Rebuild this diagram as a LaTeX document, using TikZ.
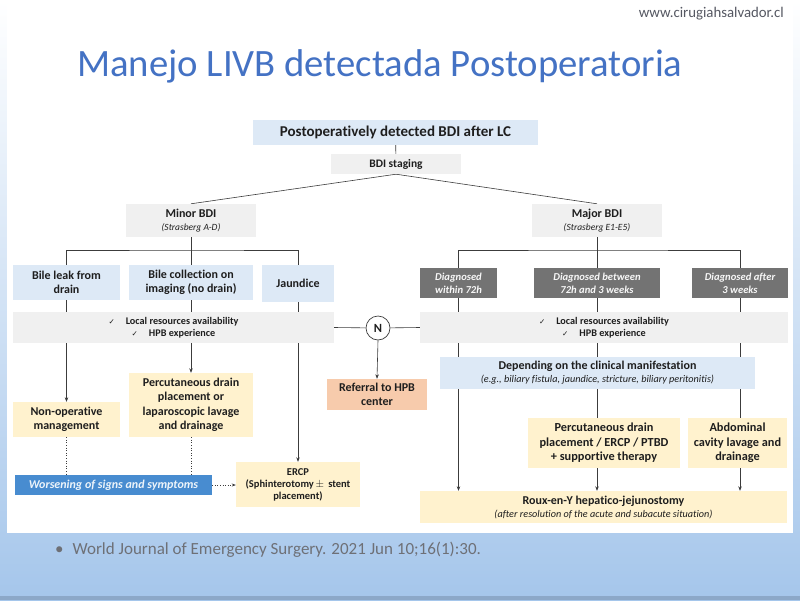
\documentclass[tikz,border=0pt]{standalone}
\usepackage{fontspec}
\setmainfont{Carlito}[Ligatures=NoCommon]
\newfontfamily\djv{DejaVu Sans}
\usetikzlibrary{arrows.meta,calc}
\pgfdeclarelayer{bg}
\pgfsetlayers{bg,main}
\newcommand\myfs[2]{\fontsize{#1}{#2}\selectfont}
\newcommand\chk{{\djv\mdseries\myfs{7.5}{8}\char"2713}}
\definecolor{ttl}{RGB}{68,114,196}
\definecolor{bxblue}{RGB}{221,233,246}
\definecolor{bxgray}{RGB}{240,240,240}
\definecolor{bxdark}{RGB}{115,115,115}
\definecolor{bxyel}{RGB}{255,242,206}
\definecolor{bxsal}{RGB}{247,203,172}
\definecolor{bxwors}{RGB}{72,140,208}
\definecolor{txt}{RGB}{30,30,30}
\definecolor{ln}{RGB}{60,60,60}
\definecolor{bgblue}{RGB}{165,198,235}
\definecolor{bgmid}{RGB}{236,243,251}
\definecolor{urlc}{RGB}{85,88,98}
\definecolor{citec}{RGB}{110,112,118}
\begin{document}
\begin{tikzpicture}[x=1pt,y=-1pt,
  bb/.style={align=center, inner sep=1pt, text=txt, font=\bfseries\myfs{12}{14}},
  wh/.style 2 args={minimum width=#1pt, minimum height=#2pt},
  blu/.style={bb, fill=bxblue},
  gry/.style={bb, fill=bxgray},
  drk/.style={bb, fill=bxdark, text=white!94!bxdark, font=\bfseries\itshape\myfs{10.6}{13}},
  yel/.style={bb, fill=bxyel},
  sal/.style={bb, fill=bxsal},
  conn/.style={draw=ln, line width=0.6pt},
  arr/.style={conn, -{Stealth[length=4.5pt,width=3.5pt]}},
  dot/.style={conn, dotted, line width=0.7pt}
]
\useasboundingbox (0,0) rectangle (800,600);

% texts of the slide
\node[anchor=west, text=ttl, font=\myfs{38.7}{40}, inner sep=0pt] (title) at (77,66) {Manejo LIVB detectada Postoperatoria};
\node[anchor=east, text=urlc, font=\myfs{14.8}{16}, inner sep=0pt] (url) at (784,14) {www.cirugiahsalvador.cl};
\node[anchor=west, text=citec, font=\myfs{17}{19}, inner sep=0pt] (cite) at (55,550) {\textbullet\hspace{9pt}World Journal of Emergency Surgery. 2021 Jun 10;16(1):30.};

% boxes
\node[blu, wh={285}{25}, font=\bfseries\myfs{15}{16}] (top) at (395.5,132.5) {Postoperatively detected BDI after LC};
\node[gry, wh={130}{20}, font=\bfseries\myfs{11.5}{12}] (stag) at (396,164) {BDI staging};
\node[gry, wh={130}{33}] (minor) at (191,220.5) {{\bfseries\myfs{12}{13}Minor BDI}\\[-1pt]{\mdseries\itshape\myfs{9.5}{11}(Strasberg A-D)}};
\node[gry, wh={130}{33}] (major) at (597,220.5) {{\bfseries\myfs{12}{13}Major BDI}\\[-1pt]{\mdseries\itshape\myfs{9.5}{11}(Strasberg E1-E5)}};

\node[blu, wh={107}{35}] (leak) at (66.5,282.5) {Bile leak from\\drain};
\node[blu, wh={124}{35}] (coll) at (191,282.5) {Bile collection on\\imaging (no drain)};
\node[blu, wh={72}{37}] (jaun) at (298,283.5) {Jaundice};

\node[drk, wh={77}{30}] (d72) at (458.5,283) {Diagnosed\\within 72h};
\node[drk, wh={126}{30}] (dbt) at (597,283) {Diagnosed between\\72h and 3 weeks};
\node[drk, wh={96}{30}] (d3w) at (740,283) {Diagnosed after\\3 weeks};

\node[gry, wh={321}{31}, font=\bfseries\myfs{10.2}{12.5}] (critL) at (173.5,327.5) {\chk\hspace{11pt}Local resources availability\\\chk\hspace{11pt}HPB experience};
\node[gry, wh={368}{31}, font=\bfseries\myfs{10.2}{12.5}] (critR) at (604,327.5) {\chk\hspace{11pt}Local resources availability\\\chk\hspace{11pt}HPB experience};
\node[circle, draw=ln, line width=0.7pt, fill=white, minimum size=24pt, inner sep=0pt, text=txt, font=\bfseries\myfs{12.5}{13}] (N) at (378,328) {N};

\node[sal, wh={100}{31}] (ref) at (377,394.5) {Referral to HPB\\center};
\node[yel, wh={107}{35}] (nonop) at (66.5,419.5) {Non-operative\\management};
\node[yel, wh={124}{64}, font=\bfseries\myfs{12}{14.5}] (perc) at (191,405) {Percutaneous drain\\placement or\\laparoscopic lavage\\and drainage};
\node[yel, wh={124}{45}, font=\bfseries\myfs{10.5}{12}] (ercp) at (298,484.5) {ERCP\\(Sphinterotomy\,$\pm$\, stent\\placement)};
\node[bb, fill=bxwors, wh={197}{20}, text=white!90!bxwors, font=\bfseries\itshape\myfs{12}{13}] (wors) at (113.5,485) {Worsening of signs and symptoms};

\node[blu, wh={315}{32}] (dep) at (597.5,373) {{\bfseries\myfs{12}{13}Depending on the clinical manifestation}\\[-1pt]{\mdseries\itshape\myfs{10.2}{11}(e.g., biliary fistula, jaundice, stricture, biliary peritonitis)}};
\node[yel, wh={152}{50}, font=\bfseries\myfs{12.3}{14.5}] (perc2) at (604,443) {Percutaneous drain\\placement / ERCP / PTBD\\+ supportive therapy};
\node[yel, wh={99}{50}, font=\bfseries\myfs{12.3}{14.5}] (abd) at (737.5,443) {Abdominal\\cavity lavage and\\drainage};
\node[yel, wh={367}{32}] (roux) at (603.5,507) {{\bfseries\myfs{12}{13}Roux-en-Y hepatico-jejunostomy}\\[-1pt]{\mdseries\itshape\myfs{10.2}{11}(after resolution of the acute and subacute situation)}};

\begin{pgfonlayer}{bg}
  % slide background
  \shade[top color=white, middle color=bgmid, bottom color=bgblue] (0,0) rectangle (800,600);
  \fill[bgblue!70!black!50!bgblue] (0,596) rectangle (800,600);
  \fill[white] (7,0) rectangle (793,533);
  % connectors
  \draw[conn] (top) -- (stag);
  \draw[conn] (stag.south) -- (minor.north);
  \draw[conn] (stag.south) -- (major.north);
  \coordinate (mbar) at (191,250);
  \coordinate (jbar) at (597,250);
  \draw[conn] (minor) -- (mbar);
  \draw[conn] (leak.north) |- (mbar) -| (jaun.north);
  \draw[conn] (mbar) -- (coll.north);
  \draw[conn] (major) -- (jbar);
  \draw[conn] (d72.north) |- (jbar) -| (d3w.north);
  \draw[conn] (jbar) -- (dbt.north);
  \draw[arr] (leak.south) -- (nonop.north);
  \draw[arr] (coll.south) -- (perc.north);
  \draw[arr] (jaun.south) -- (ercp.north);
  \draw[conn] (critL.east) -- (N) -- (critR.west);
  \draw[arr] (N.south) -- (ref.north);
  \draw[dot] (nonop.south) -- (nonop.south |- wors.north);
  \draw[dot] (perc.south) -- (perc.south |- wors.north);
  \draw[dot, -{Stealth[length=4pt,width=3pt]}] (wors.east) -- (ercp.west |- wors.east);
  \draw[arr] (d72.south) -- (d72.south |- roux.north);
  \draw[conn] (dbt.south) -- (dbt.south |- perc2.north);
  \draw[arr] (dbt.south |- perc2.south) -- (dbt.south |- roux.north);
  \draw[conn] (d3w.south) -- (d3w.south |- abd.north);
  \draw[arr] (d3w.south |- abd.south) -- (d3w.south |- roux.north);
\end{pgfonlayer}
\end{tikzpicture}
\end{document}
